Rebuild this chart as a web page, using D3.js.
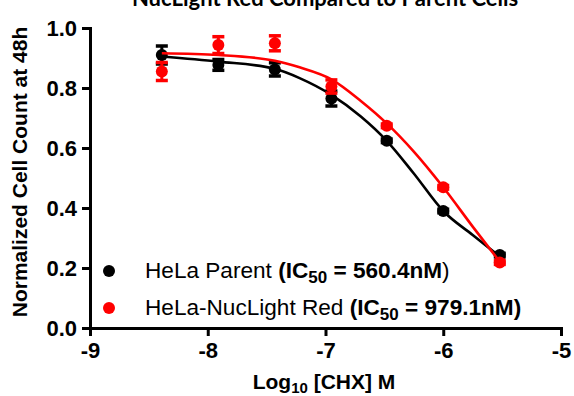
<!DOCTYPE html>
<html><head><meta charset="utf-8">
<script src="https://cdn.jsdelivr.net/npm/d3@7"></script>
<style>body{margin:0;background:#fff}</style>
</head><body><svg id="c" width="574" height="396"></svg>
<script>
const logConc = [-8.39, -7.91, -7.43, -6.95, -6.48, -6.0, -5.52];
const parentMean = [0.910, 0.877, 0.862, 0.765, 0.624, 0.390, 0.243];
const parentErr = [0.030, 0.018, 0.022, 0.025, 0.006, 0.006, 0.006];
const redMean = [0.855, 0.943, 0.949, 0.805, 0.674, 0.469, 0.218];
const redErr = [0.030, 0.028, 0.025, 0.022, 0.006, 0.006, 0.006];
const fitX = [-8.39, -7.91, -7.43, -7.22, -6.95, -6.7, -6.48, -6.25, -6.0, -5.75, -5.52];
const parentFit = [0.905, 0.888, 0.864, 0.833, 0.777, 0.705, 0.624, 0.515, 0.390, 0.310, 0.238];
const redFit = [0.916, 0.910, 0.891, 0.869, 0.829, 0.757, 0.682, 0.588, 0.469, 0.338, 0.221];
const xTicks = [-9, -8, -7, -6, -5];
const yTicks = [0, 0.2, 0.4, 0.6, 0.8, 1.0];
const seriesNames = ["HeLa Parent", "HeLa-NucLight Red"];
const ic50Labels = ["560.4nM", "979.1nM"];
const colors = ["#000000", "#ff0000"];
const titleText = "NucLight Red Compared to Parent Cells";
const xLabel = "Log";
const yLabel = "Normalized Cell Count at 48h";

const svg = d3.select("#c");
const x = d3.scaleLinear().domain([-9, -5]).range([90, 561]);
const y = d3.scaleLinear().domain([0, 1]).range([328, 28]);
const axisFont = "'Liberation Sans', Arial, sans-serif";

// axes
const gx = svg.append("g").attr("transform", "translate(0,328)")
  .call(d3.axisBottom(x).tickValues(xTicks).tickFormat(d3.format("d")).tickSize(8).tickPadding(6));
const gy = svg.append("g").attr("transform", "translate(90,0)")
  .call(d3.axisLeft(y).tickValues(yTicks).tickFormat(d3.format(".1f")).tickSize(8).tickPadding(5));
[gx, gy].forEach(g => {
  g.selectAll("path,line").attr("stroke", "#000").attr("stroke-width", 3);
  g.selectAll("text").attr("font-family", axisFont).attr("font-weight", "bold")
    .attr("font-size", 22).attr("fill", "#000");
});
gx.selectAll("text").text(d => d < 0 ? "-" + Math.abs(d) : d);

// series
const line = d3.line().x(d => x(d[0])).y(d => y(d[1])).curve(d3.curveMonotoneX);
const series = [
  {mean: parentMean, err: parentErr, fit: parentFit, color: colors[0]},
  {mean: redMean, err: redErr, fit: redFit, color: colors[1]}
];
series.forEach(s => {
  svg.append("path").datum(fitX.map((v, i) => [v, s.fit[i]]))
    .attr("d", line).attr("fill", "none").attr("stroke", s.color).attr("stroke-width", 2.6);
  const g = svg.append("g");
  logConc.forEach((v, i) => {
    const cx = x(v), top = y(s.mean[i] + s.err[i]), bot = y(s.mean[i] - s.err[i]);
    g.append("line").attr("x1", cx).attr("x2", cx).attr("y1", top).attr("y2", bot)
      .attr("stroke", s.color).attr("stroke-width", 3);
    [top, bot].forEach(yy => g.append("line").attr("x1", cx - 6).attr("x2", cx + 6)
      .attr("y1", yy).attr("y2", yy).attr("stroke", s.color).attr("stroke-width", 3.5));
    g.append("circle").attr("cx", cx).attr("cy", y(s.mean[i])).attr("r", 6).attr("fill", s.color);
  });
});

// legend
const legY = [278, 315];
seriesNames.forEach((name, i) => {
  svg.append("circle").attr("cx", 109).attr("cy", legY[i] - 7).attr("r", 6).attr("fill", colors[i]);
  const t = svg.append("text").attr("x", 145).attr("y", legY[i])
    .attr("font-family", axisFont).attr("font-size", 22.6).attr("fill", "#000");
  t.append("tspan").text(name + " ");
  t.append("tspan").attr("font-weight", "bold").text("(IC");
  t.append("tspan").attr("font-weight", "bold").attr("font-size", 17).attr("dy", 5).text("50");
  t.append("tspan").attr("font-weight", "bold").attr("dy", -5).text(" = " + ic50Labels[i]);
  t.append("tspan").attr("font-weight", i === 0 ? "normal" : "bold").text(")");
});

// title
svg.append("text").attr("x", 325).attr("y", 6).attr("text-anchor", "middle")
  .attr("font-family", "Lato, 'Open Sans', sans-serif").attr("font-weight", "bold")
  .attr("font-size", 22).attr("fill", "#000").text(titleText);

// y label
svg.append("text").attr("transform", "translate(27,172) rotate(-90)").attr("text-anchor", "middle")
  .attr("font-family", axisFont).attr("font-weight", "bold").attr("font-size", 21)
  .attr("fill", "#000").text(yLabel);

// x label
const xl = svg.append("text").attr("x", 324).attr("y", 389).attr("text-anchor", "middle")
  .attr("font-family", axisFont).attr("font-weight", "bold").attr("font-size", 21).attr("fill", "#000");
xl.append("tspan").text(xLabel);
xl.append("tspan").attr("font-size", 15).attr("dy", 4).text("10");
xl.append("tspan").attr("dy", -4).text(" [CHX] M");
</script></body></html>
